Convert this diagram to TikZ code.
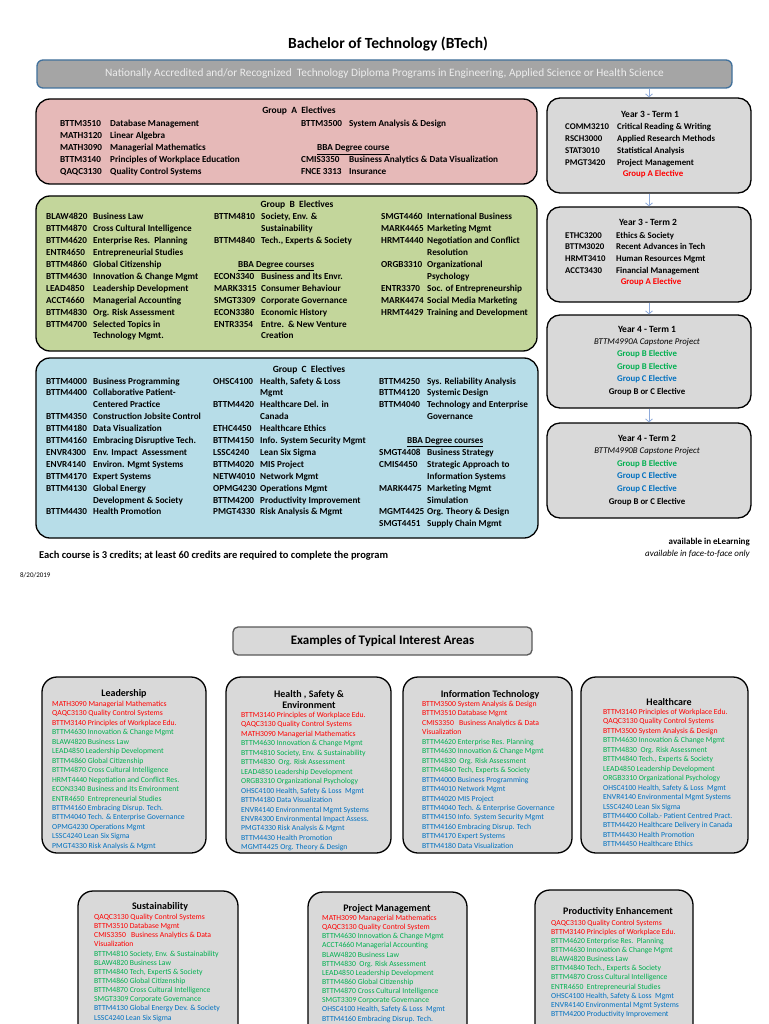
\documentclass[tikz,border=0pt]{standalone}
\usepackage{fontspec}
\setmainfont{Carlito}
\usetikzlibrary{arrows.meta}
\definecolor{pinkA}{HTML}{E6B9B8}
\definecolor{greenB}{HTML}{C3D69B}
\definecolor{blueC}{HTML}{B7DDE8}
\definecolor{boxgray}{HTML}{D9D9D9}
\definecolor{bannergray}{HTML}{A5A5A5}
\definecolor{bannerblue}{HTML}{41719C}
\definecolor{bannertext}{HTML}{EDEDED}
\definecolor{exborder}{HTML}{595959}
\definecolor{ired}{HTML}{FF0000}
\definecolor{igreen}{HTML}{00B050}
\definecolor{iblue}{HTML}{0070C0}
\definecolor{arrowblue}{HTML}{8EAADB}
\begin{document}
\begin{tikzpicture}[x=1pt,y=-1pt,
  bigbox/.style={draw=black,line width=1.3pt,rounded corners=14pt,inner sep=0pt},
  yearbox/.style={draw=black,line width=1.3pt,rounded corners=13pt,fill=boxgray,minimum width=204pt,inner sep=0pt},
  intbox/.style={draw=black,line width=1.3pt,rounded corners=15pt,fill=boxgray,inner sep=0pt},
  gtab/.style={anchor=base west,inner sep=0pt,font=\bfseries\fontsize{9.2}{11.9}\selectfont},
  ytab/.style={anchor=base west,inner sep=0pt,font=\bfseries\fontsize{8.8}{11.7}\selectfont},
  gtitle/.style={inner sep=0pt,font=\bfseries\fontsize{9.5}{11}\selectfont},
  itab/.style={anchor=base west,inner sep=0pt,font=\fontsize{7.7}{9.45}\selectfont},
  itabb/.style={anchor=base west,inner sep=0pt,font=\fontsize{7.7}{9.15}\selectfont},
  ititle/.style={inner sep=0pt,align=center,font=\bfseries\fontsize{10}{11.3}\selectfont},
  arr/.style={draw=arrowblue,line width=0.8pt,-{Straight Barb[length=3pt,width=7pt]}}
]
\useasboundingbox (0,0) rectangle (768,1024);
\clip (0,0) rectangle (768,1024);
\fill[white] (0,0) rectangle (768,1024);

% ---------- title and banner ----------
\node[inner sep=0pt,font=\bfseries\fontsize{15.5}{17}\selectfont] (title) at (388,44) {Bachelor of Technology (BTech)};
\node[draw=bannerblue,line width=1.3pt,fill=bannergray,rounded corners=6pt,minimum width=695pt,minimum height=28pt,
  text=bannertext,font=\fontsize{11.3}{13}\selectfont] (ban) at (384.5,74)
  {Nationally Accredited and/or Recognized\ \ Technology Diploma Programs in Engineering, Applied Science or Health Science};

% ---------- group boxes ----------
\node[bigbox,fill=pinkA,minimum width=501pt,minimum height=85pt] (ga) at (286.5,141.5) {};
\node[bigbox,fill=greenB,minimum width=501pt,minimum height=155pt] (gb) at (286.5,273.5) {};
\node[bigbox,fill=blueC,minimum width=502pt,minimum height=180pt] (gc) at (287,448) {};

\node[gtitle] (gat) at (299,111) {Group\ \ A\ \ Electives};
\node[gtab] (gal) at (60,127) {\begin{tabular}[t]{@{}p{50pt}@{}l@{}}
BTTM3510 & Database Management\\
MATH3120 & Linear Algebra\\
MATH3090 & Managerial Mathematics\\
BTTM3140 & Principles of Workplace Education\\
QAQC3130 & Quality Control Systems
\end{tabular}};
\node[gtab] (gar) at (301,127) {\begin{tabular}[t]{@{}p{48pt}@{}l@{}}
BTTM3500 & System Analysis \& Design\\
 & \\
\multicolumn{2}{@{}l@{}}{\hspace{16pt}\underline{BBA Degree course}}\\
CMIS3350 & Business Analytics \& Data Visualization\\
FNCE 3313 & Insurance
\end{tabular}};

\node[gtitle] (gbt) at (297,205) {Group\ \ B\ \ Electives};
\node[gtab] (gbl) at (46,220) {\begin{tabular}[t]{@{}p{47pt}@{}l@{}}
BLAW4820 & Business Law\\
BTTM4870 & Cross Cultural Intelligence\\
BTTM4620 & Enterprise Res.\ \ Planning\\
ENTR4650 & Entrepreneurial Studies\\
BTTM4860 & Global Citizenship\\
BTTM4630 & Innovation \& Change Mgmt\\
LEAD4850 & Leadership Development\\
ACCT4660 & Managerial Accounting\\
BTTM4830 & Org. Risk Assessment\\
BTTM4700 & Selected Topics in\\
 & Technology Mgmt.
\end{tabular}};
\node[gtab] (gbm) at (214,220) {\begin{tabular}[t]{@{}p{47pt}@{}l@{}}
BTTM4810 & Society, Env. \&\\
 & Sustainability\\
BTTM4840 & Tech., Experts \& Society\\
 & \\
\multicolumn{2}{@{}l@{}}{\hspace{24pt}\underline{BBA Degree courses}}\\
ECON3340 & Business and Its Envr.\\
MARK3315 & Consumer Behaviour\\
SMGT3309 & Corporate Governance\\
ECON3380 & Economic History\\
ENTR3354 & Entre.\ \ \& New Venture\\
 & Creation
\end{tabular}};
\node[gtab] (gbr) at (381,220) {\begin{tabular}[t]{@{}p{46pt}@{}l@{}}
SMGT4460 & International Business\\
MARK4465 & Marketing Mgmt\\
HRMT4440 & Negotiation and Conflict\\
 & Resolution\\
ORGB3310 & Organizational\\
 & Psychology\\
ENTR3370 & Soc. of Entrepreneurship\\
MARK4474 & Social Media Marketing\\
HRMT4429 & Training and Development
\end{tabular}};

\node[gtitle] (gct) at (309,370) {Group\ \ C\ \ Electives};
\node[gtab] (gcl) at (46,384) {\begin{tabular}[t]{@{}p{47pt}@{}l@{}}
BTTM4000 & Business Programming\\
BTTM4400 & Collaborative Patient-\\
 & Centered Practice\\
BTTM4350 & Construction Jobsite Control\\
BTTM4180 & Data Visualization\\
BTTM4160 & Embracing Disruptive Tech.\\
ENVR4300 & Env. Impact\ \ Assessment\\
ENVR4140 & Environ. Mgmt Systems\\
BTTM4170 & Expert Systems\\
BTTM4130 & Global Energy\\
 & Development \& Society\\
BTTM4430 & Health Promotion
\end{tabular}};
\node[gtab] (gcm) at (213,384) {\begin{tabular}[t]{@{}p{47pt}@{}l@{}}
OHSC4100 & Health, Safety \& Loss\\
 & Mgmt\\
BTTM4420 & Healthcare Del. in\\
 & Canada\\
ETHC4450 & Healthcare Ethics\\
BTTM4150 & Info. System Security Mgmt\\
LSSC4240 & Lean Six Sigma\\
BTTM4020 & MIS Project\\
NETW4010 & Network Mgmt\\
OPMG4230 & Operations Mgmt\\
BTTM4200 & Productivity Improvement\\
PMGT4330 & Risk Analysis \& Mgmt
\end{tabular}};
\node[gtab] (gcr) at (379,384) {\begin{tabular}[t]{@{}p{48pt}@{}l@{}}
BTTM4250 & Sys. Reliability Analysis\\
BTTM4120 & Systemic Design\\
BTTM4040 & Technology and Enterprise\\
 & Governance\\
 & \\
\multicolumn{2}{@{}l@{}}{\hspace{28pt}\underline{BBA Degree courses}}\\
SMGT4408 & Business Strategy\\
CMIS4450 & Strategic Approach to\\
 & Information Systems\\
MARK4475 & Marketing Mgmt\\
 & Simulation\\
MGMT4425 & Org. Theory \& Design\\
SMGT4451 & Supply Chain Mgmt
\end{tabular}};

% ---------- year boxes ----------
\node[yearbox,minimum height=95pt] (y31) at (649,145.5) {};
\node[yearbox,minimum height=95pt] (y32) at (649,254.5) {};
\node[yearbox,minimum height=93pt] (y41) at (649,361.5) {};
\node[yearbox,minimum height=95pt] (y42) at (649,470.5) {};

\draw[arr] (ban.south -| y31.north) -- (y31.north);
\draw[arr] (y31.south) -- (y32.north);
\draw[arr] (y32.south) -- (y41.north);
\draw[arr] (y41.south) -- (y42.north);

\node[gtitle] (y31t) at (650,114) {Year 3 - Term 1};
\node[ytab] (y31l) at (565,130) {\begin{tabular}[t]{@{}p{52pt}@{}l@{}}
COMM3210 & Critical Reading \& Writing\\
RSCH3000 & Applied Research Methods\\
STAT3010 & Statistical Analysis\\
PMGT3420 & Project Management
\end{tabular}};
\node[gtitle,text=ired,font=\bfseries\fontsize{8.8}{11}\selectfont] (y31e) at (653,174) {Group A Elective};

\node[gtitle] (y32t) at (648,222) {Year 3 - Term 2};
\node[ytab] (y32l) at (565,238) {\begin{tabular}[t]{@{}p{51pt}@{}l@{}}
ETHC3200 & Ethics \& Society\\
BTTM3020 & Recent Advances in Tech\\
HRMT3410 & Human Resources Mgmt\\
ACCT3430 & Financial Management
\end{tabular}};
\node[gtitle,text=ired,font=\bfseries\fontsize{8.8}{11}\selectfont] (y32e) at (651,282) {Group A Elective};

\node[anchor=base,inner sep=0pt,font=\bfseries\fontsize{8.8}{12.4}\selectfont] (y41l) at (647,332) {\begin{tabular}[t]{@{}c@{}}
{\fontsize{9.5}{12.4}\selectfont Year 4 - Term 1}\\
{\mdseries\itshape BTTM4990A Capstone Project}\\
\textcolor{igreen}{Group B Elective}\\
\textcolor{igreen}{Group B Elective}\\
\textcolor{iblue}{Group C Elective}\\
Group B or C Elective
\end{tabular}};
\node[anchor=base,inner sep=0pt,font=\bfseries\fontsize{8.8}{12.6}\selectfont] (y42l) at (647,441) {\begin{tabular}[t]{@{}c@{}}
{\fontsize{9.5}{12.6}\selectfont Year 4 - Term 2}\\
{\mdseries\itshape BTTM4990B Capstone Project}\\
\textcolor{igreen}{Group B Elective}\\
\textcolor{iblue}{Group C Elective}\\
\textcolor{iblue}{Group C Elective}\\
Group B or C Elective
\end{tabular}};

% ---------- footer ----------
\node[anchor=west,inner sep=0pt,font=\bfseries\fontsize{10.5}{12}\selectfont] (credits) at (39,556) {Each course is 3 credits; at least 60 credits are required to complete the program};
\node[anchor=east,inner sep=0pt,font=\bfseries\fontsize{9}{11}\selectfont] (elearn) at (750,542) {available in eLearning};
\node[anchor=east,inner sep=0pt,font=\itshape\fontsize{9}{11}\selectfont] (f2f) at (750,554) {available in face-to-face only};
\node[anchor=west,inner sep=0pt,font=\fontsize{7}{8}\selectfont] (date) at (20,575) {8/20/2019};

% ---------- interest areas ----------
\node[draw=exborder,line width=1.3pt,fill=boxgray,rounded corners=5pt,minimum width=299pt,minimum height=28pt,
  font=\bfseries\fontsize{13}{15}\selectfont] (ex) at (382.5,641) {Examples of Typical Interest Areas};

\node[intbox,minimum width=164pt,minimum height=176pt] (lead) at (124,765) {};
\node[intbox,minimum width=165pt,minimum height=176pt] (hse) at (308.5,765) {};
\node[intbox,minimum width=169pt,minimum height=176pt] (it) at (487.5,765) {};
\node[intbox,minimum width=167pt,minimum height=176pt] (hc) at (664.5,765) {};
\node[intbox,minimum width=160pt,minimum height=190pt] (sus) at (158,986) {};
\node[intbox,minimum width=159pt,minimum height=190pt] (pm) at (387.5,987) {};
\node[intbox,minimum width=158pt,minimum height=190pt] (pe) at (614,985) {};

\node[ititle] (leadt) at (124,694) {Leadership};
\node[itab] (leadl) at (52,706.5) {\begin{tabular}[t]{@{}l@{}}
\textcolor{ired}{MATH3090 Managerial Mathematics}\\
\textcolor{ired}{QAQC3130 Quality Control Systems}\\
\textcolor{ired}{BTTM3140 Principles of Workplace Edu.}\\
\textcolor{igreen}{BTTM4630 Innovation \& Change Mgmt}\\
\textcolor{igreen}{BLAW4820 Business Law}\\
\textcolor{igreen}{LEAD4850 Leadership Development}\\
\textcolor{igreen}{BTTM4860 Global Citizenship}\\
\textcolor{igreen}{BTTM4870 Cross Cultural Intelligence}\\
\textcolor{igreen}{HRMT4440 Negotiation and Conflict Res.}\\
\textcolor{igreen}{ECON3340 Business and Its Environment}\\
\textcolor{igreen}{ENTR4650\ \ Entrepreneurial Studies}\\
\textcolor{iblue}{BTTM4160 Embracing Disrup. Tech.}\\
\textcolor{iblue}{BTTM4040 Tech. \& Enterprise Governance}\\
\textcolor{iblue}{OPMG4230 Operations Mgmt}\\
\textcolor{iblue}{LSSC4240 Lean Six Sigma}\\
\textcolor{iblue}{PMGT4330 Risk Analysis \& Mgmt}
\end{tabular}};

\node[ititle] (hset) at (309,699.5) {Health , Safety \&\\Environment};
\node[itab] (hsel) at (241,717.5) {\begin{tabular}[t]{@{}l@{}}
\textcolor{ired}{BTTM3140 Principles of Workplace Edu.}\\
\textcolor{ired}{QAQC3130 Quality Control Systems}\\
\textcolor{ired}{MATH3090 Managerial Mathematics}\\
\textcolor{igreen}{BTTM4630 Innovation \& Change Mgmt}\\
\textcolor{igreen}{BTTM4810 Society, Env. \& Sustainability}\\
\textcolor{igreen}{BTTM4830\ \ Org. Risk Assessment}\\
\textcolor{igreen}{LEAD4850 Leadership Development}\\
\textcolor{igreen}{ORGB3310 Organizational Psychology}\\
\textcolor{iblue}{OHSC4100 Health, Safety \& Loss\ \ Mgmt}\\
\textcolor{iblue}{BTTM4180 Data Visualization}\\
\textcolor{iblue}{ENVR4140 Environmental Mgmt Systems}\\
\textcolor{iblue}{ENVR4300 Environmental Impact Assess.}\\
\textcolor{iblue}{PMGT4330 Risk Analysis \& Mgmt}\\
\textcolor{iblue}{BTTM4430 Health Promotion}\\
\textcolor{iblue}{MGMT4425 Org. Theory \& Design}
\end{tabular}};

\node[ititle] (itt) at (490,695) {Information Technology};
\node[itab] (itl) at (422,706.5) {\begin{tabular}[t]{@{}l@{}}
\textcolor{ired}{BTTM3500 System Analysis \& Design}\\
\textcolor{ired}{BTTM3510 Database Mgmt}\\
\textcolor{ired}{CMIS3350\ \ \ Business Analytics \& Data}\\
\textcolor{ired}{Visualization}\\
\textcolor{igreen}{BTTM4620 Enterprise Res. Planning}\\
\textcolor{igreen}{BTTM4630 Innovation \& Change Mgmt}\\
\textcolor{igreen}{BTTM4830\ \ Org. Risk Assessment}\\
\textcolor{igreen}{BTTM4840 Tech, Experts \& Society}\\
\textcolor{iblue}{BTTM4000 Business Programming}\\
\textcolor{iblue}{BTTM4010 Network Mgmt}\\
\textcolor{iblue}{BTTM4020 MIS Project}\\
\textcolor{iblue}{BTTM4040 Tech. \& Enterprise Governance}\\
\textcolor{iblue}{BTTM4150 Info. System Security Mgmt}\\
\textcolor{iblue}{BTTM4160 Embracing Disrup. Tech}\\
\textcolor{iblue}{BTTM4170 Expert Systems}\\
\textcolor{iblue}{BTTM4180 Data Visualization}
\end{tabular}};

\node[ititle] (hct) at (669,702) {Healthcare};
\node[itab] (hcl) at (603,714.5) {\begin{tabular}[t]{@{}l@{}}
\textcolor{ired}{BTTM3140 Principles of Workplace Edu.}\\
\textcolor{ired}{QAQC3130 Quality Control Systems}\\
\textcolor{ired}{BTTM3500 System Analysis \& Design}\\
\textcolor{igreen}{BTTM4630 Innovation \& Change Mgmt}\\
\textcolor{igreen}{BTTM4830\ \ Org. Risk Assessment}\\
\textcolor{igreen}{BTTM4840 Tech., Experts \& Society}\\
\textcolor{igreen}{LEAD4850 Leadership Development}\\
\textcolor{igreen}{ORGB3310 Organizational Psychology}\\
\textcolor{iblue}{OHSC4100 Health, Safety \& Loss\ \ Mgmt}\\
\textcolor{iblue}{ENVR4140 Environmental Mgmt Systems}\\
\textcolor{iblue}{LSSC4240 Lean Six Sigma}\\
\textcolor{iblue}{BTTM4400 Collab.- Patient Centred Pract.}\\
\textcolor{iblue}{BTTM4420 Healthcare Delivery in Canada}\\
\textcolor{iblue}{BTTM4430 Health Promotion}\\
\textcolor{iblue}{BTTM4450 Healthcare Ethics}
\end{tabular}};

\node[ititle] (sust) at (160,907) {Sustainability};
\node[itabb] (susl) at (94,919.4) {\begin{tabular}[t]{@{}l@{}}
\textcolor{ired}{QAQC3130 Quality Control Systems}\\
\textcolor{ired}{BTTM3510 Database Mgmt}\\
\textcolor{ired}{CMIS3350\ \ \ Business Analytics \& Data}\\
\textcolor{ired}{Visualization}\\
\textcolor{igreen}{BTTM4810 Society, Env. \& Sustainability}\\
\textcolor{igreen}{BLAW4820 Business Law}\\
\textcolor{igreen}{BTTM4840 Tech, ExpertS \& Society}\\
\textcolor{igreen}{BTTM4860 Global Citizenship}\\
\textcolor{igreen}{BTTM4870 Cross Cultural Intelligence}\\
\textcolor{igreen}{SMGT3309 Corporate Governance}\\
\textcolor{iblue}{BTTM4130 Global Energy Dev. \& Society}\\
\textcolor{iblue}{LSSC4240 Lean Six Sigma}
\end{tabular}};

\node[ititle] (pmt) at (387,909) {Project Management};
\node[itabb] (pml) at (322,920.4) {\begin{tabular}[t]{@{}l@{}}
\textcolor{ired}{MATH3090 Managerial Mathematics}\\
\textcolor{ired}{QAQC3130 Quality Control System}\\
\textcolor{igreen}{BTTM4630 Innovation \& Change Mgmt}\\
\textcolor{igreen}{ACCT4660 Managerial Accounting}\\
\textcolor{igreen}{BLAW4820 Business Law}\\
\textcolor{igreen}{BTTM4830\ \ Org. Risk Assessment}\\
\textcolor{igreen}{LEAD4850 Leadership Development}\\
\textcolor{igreen}{BTTM4860 Global Citizenship}\\
\textcolor{igreen}{BTTM4870 Cross Cultural Intelligence}\\
\textcolor{igreen}{SMGT3309 Corporate Governance}\\
\textcolor{iblue}{OHSC4100 Health, Safety \& Loss\ \ Mgmt}\\
\textcolor{iblue}{BTTM4160 Embracing Disrup. Tech.}
\end{tabular}};

\node[ititle] (pet) at (618,912) {Productivity Enhancement};
\node[itabb] (pel) at (551,925) {\begin{tabular}[t]{@{}l@{}}
\textcolor{ired}{QAQC3130 Quality Control Systems}\\
\textcolor{ired}{BTTM3140 Principles of Workplace Edu.}\\
\textcolor{igreen}{BTTM4620 Enterprise Res.\ \ Planning}\\
\textcolor{igreen}{BTTM4630 Innovation \& Change Mgmt}\\
\textcolor{igreen}{BLAW4820 Business Law}\\
\textcolor{igreen}{BTTM4840 Tech., Experts \& Society}\\
\textcolor{igreen}{BTTM4870 Cross Cultural Intelligence}\\
\textcolor{igreen}{ENTR4650\ \ Entrepreneurial Studies}\\
\textcolor{iblue}{OHSC4100 Health, Safety \& Loss\ \ Mgmt}\\
\textcolor{iblue}{ENVR4140 Environmental Mgmt Systems}\\
\textcolor{iblue}{BTTM4200 Productivity Improvement}
\end{tabular}};
\end{tikzpicture}
\end{document}
